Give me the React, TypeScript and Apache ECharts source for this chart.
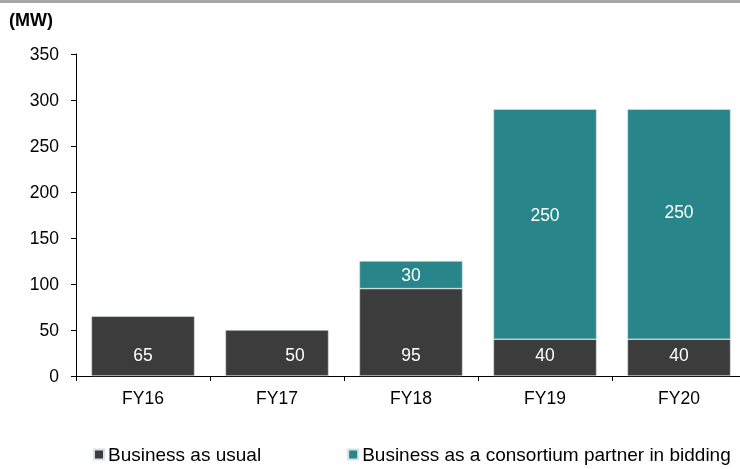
import React, { useEffect, useRef } from "react";
import * as echarts from "echarts";

const categories = ["FY16", "FY17", "FY18", "FY19", "FY20"];
const businessAsUsual = [65, 50, 95, 40, 40];
const consortium = [null, null, 30, 250, 250];
const yTicks = [0, 50, 100, 150, 200, 250, 300, 350];

const DARK = "#3c3c3c";
const TEAL = "#28868a";
const FONT = "Liberation Sans, Arial, sans-serif";
const FS = 17.5;

// label offsets (styling only)
const darkLabelOffsets = [[0, 0], [18, 0], [0, 0], [0, 0], [0, 0]];
const tealLabelOffsets = [[0, 0], [0, 0], [0, 0], [0, -9], [0, -12]];

export default function App() {
  const ref = useRef<HTMLDivElement>(null);
  useEffect(() => {
    const chart = echarts.init(ref.current!, null, { renderer: "svg" });
    chart.setOption({
      animation: false,
      textStyle: { fontFamily: FONT },
      graphic: [
        { type: "rect", left: 0, top: 0, shape: { width: 760, height: 3 }, style: { fill: "#a6a6a6" } },
        { type: "text", left: 9, top: 11, style: { text: "(MW)", font: `bold 18px ${FONT}`, fill: "#000" } },
      ],
      legend: {
        left: 88,
        top: 440,
        itemWidth: 10,
        itemHeight: 10,
        itemGap: 86,
        icon: "rect",
        textStyle: { fontSize: 19, color: "#000", fontFamily: FONT, padding: [0, 0, 0, -1] },
        data: ["Business as usual", "Business as a consortium partner in bidding"],
      },
      grid: { left: 76, top: 54, width: 670, bottom: 93 },
      xAxis: {
        type: "category",
        data: categories,
        axisLine: { lineStyle: { color: "#000", width: 1 } },
        axisTick: { show: true, length: 5, lineStyle: { color: "#000" }, alignWithLabel: false },
        axisLabel: { color: "#000", fontSize: FS, margin: 13, fontFamily: FONT },
      },
      yAxis: {
        type: "value",
        min: yTicks[0],
        max: yTicks[yTicks.length - 1],
        interval: 50,
        splitLine: { show: false },
        axisLine: { show: true, lineStyle: { color: "#000", width: 1 } },
        axisTick: { show: true, length: 5, lineStyle: { color: "#000" } },
        axisLabel: { color: "#000", fontSize: FS, margin: 17, fontFamily: FONT },
      },
      series: [
        {
          name: "Business as usual",
          type: "bar",
          stack: "total",
          barCategoryGap: "23%",
          itemStyle: { color: DARK, borderColor: "#d8e2e2", borderWidth: 0.6 },
          label: { show: true, position: "insideBottom", distance: 12, color: "#fff", fontSize: FS, fontFamily: FONT },
          data: businessAsUsual.map((v, i) => ({ value: v, label: { offset: darkLabelOffsets[i] } })),
        },
        {
          name: "Business as a consortium partner in bidding",
          type: "bar",
          stack: "total",
          barCategoryGap: "23%",
          itemStyle: { color: TEAL, borderColor: "#d8e2e2", borderWidth: 0.6 },
          label: { show: true, position: "inside", color: "#fff", fontSize: FS, fontFamily: FONT },
          data: consortium.map((v, i) => ({ value: v, label: { offset: tealLabelOffsets[i] } })),
        },
      ],
    });
    return () => chart.dispose();
  }, []);
  return <div ref={ref} style={{ position: "fixed", left: 0, top: 0, width: 760, height: 469 }} />;
}
